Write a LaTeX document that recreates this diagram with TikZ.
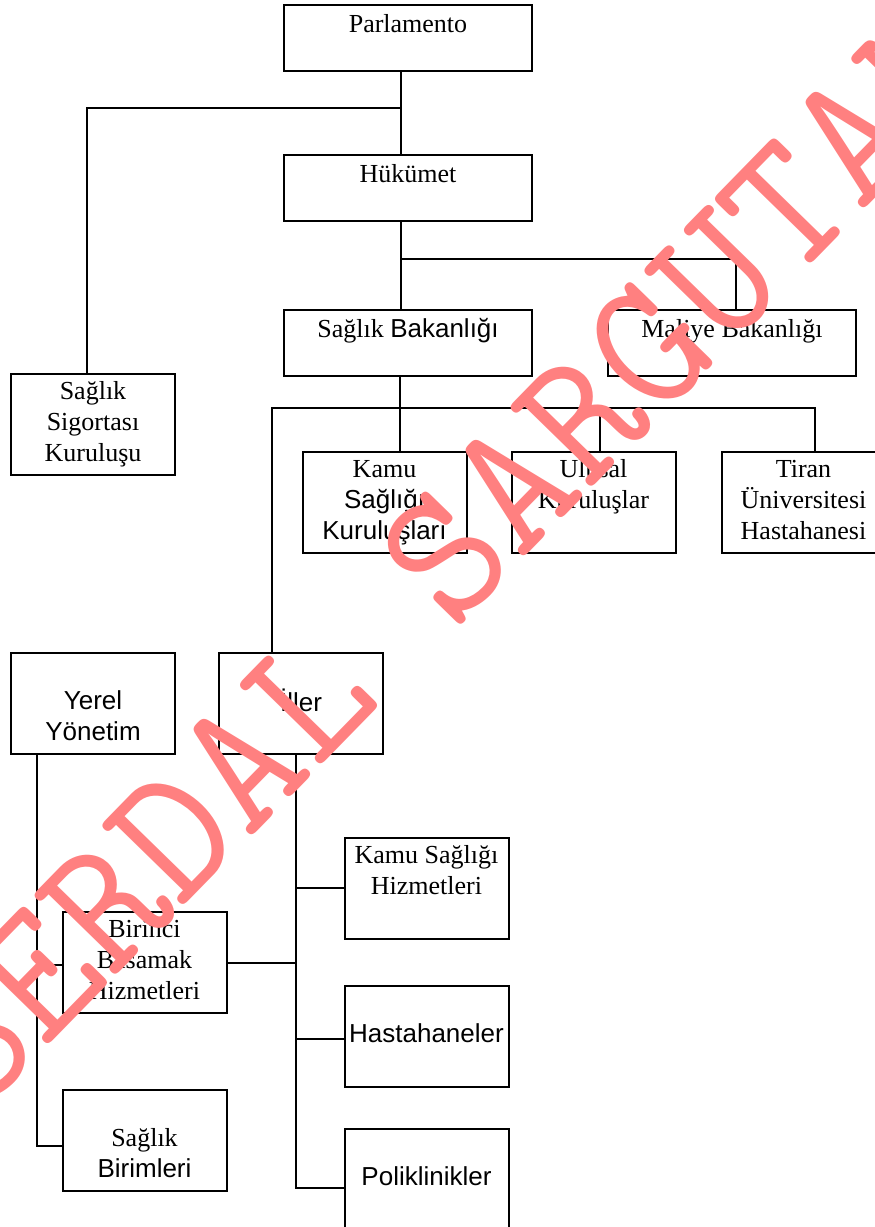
\documentclass[tikz,border=0pt]{standalone}
\usepackage{fontspec}
\setmainfont{Liberation Serif}
\setsansfont{Liberation Sans}
\usetikzlibrary{positioning,calc}
\definecolor{wmred}{RGB}{255,128,128}
\newcommand{\rows}[3]{\strut#1\\\strut#2\\\strut#3}

\begin{document}
\begin{tikzpicture}[x=0.5pt, y=-0.5pt, line width=1pt, font=\fontsize{13}{15.5}\selectfont,
    widebox/.style={draw, minimum width=124pt, inner sep=0pt, text height=13.5pt, text depth=19.5pt},
    unitbox/.style={draw, align=center, minimum width=82pt, minimum height=50.5pt, inner sep=0pt}]
    \useasboundingbox (0,0) rectangle (874,1227);
    % Ministries
    \node[widebox] (parl) at (408,38) {Parlamento};
    \node[widebox, below=41pt of parl] (huk) {Hükümet};
    \node[widebox, below=43.5pt of huk] (sb) {Sağlık {\sffamily Bakanlığı}};
    \node[widebox, right=37pt of sb] (mb) {Maliye Bakanlığı};
    \node[unitbox] (ssk) at (93,424.5) {\rows{Sağlık}{Sigortası}{Kuruluşu}};
    % Central units
    \node[unitbox] (kamu) at (384.5,502.5) {\rows{Kamu}{{\sffamily Sağlığı}}{{\sffamily Kuruluşları}}};
    \node[unitbox, right=21.5pt of kamu] (ulusal) {\rows{Ulusal}{Kuruluşlar}{}};
    \node[unitbox, right=22pt of ulusal] (tiran) {\rows{Tiran}{Üniversitesi}{Hastahanesi}};
    % Local level
    \node[unitbox] (yerel) at (93,703.5) {\rows{}{{\sffamily Yerel}}{{\sffamily Yönetim}}};
    \node[unitbox, right=21pt of yerel] (iller) {\rows{}{{\sffamily İller}}{}};
    \node[unitbox] (ksh) at (426.5,888) {\rows{Kamu Sağlığı}{Hizmetleri}{}};
    \node[unitbox, below=22.5pt of ksh] (hast) {\rows{}{{\sffamily Hastahaneler}}{}};
    \node[unitbox, below=20pt of hast] (poli) {\rows{}{{\sffamily Poliklinikler}}{}};
    \node[unitbox] (bbh) at (144.5,962.5) {\rows{Birinci}{Basamak}{Hizmetleri}};
    \node[unitbox, below=37.5pt of bbh] (sbir) {\rows{}{Sağlık}{{\sffamily Birimleri}}};
    % Lines
    \coordinate (j1) at (401,108);
    \coordinate (j2) at (401,259);
    \coordinate (j3) at (400,408);
    \draw ([xshift=-3.5pt]parl.south) -- ([xshift=-3.5pt]huk.north);
    \draw (j1) -| ([xshift=-3pt]ssk.north);
    \draw ([xshift=-3.5pt]huk.south) -- ([xshift=-3.5pt]sb.north);
    \draw (j2) -| ([xshift=2pt]mb.north);
    \draw ([xshift=-4pt]sb.south) -- (j3);
    \draw (j3) -- ([xshift=7.75pt]kamu.north);
    \draw (j3) -| ([xshift=3.25pt]ulusal.north);
    \draw (j3) -| ([xshift=5.5pt]tiran.north);
    \draw (j3) -| ([xshift=-14.75pt]iller.north);
    \coordinate (t) at ([xshift=-2.75pt]iller.south);
    \draw (t) |- ([yshift=-4.5pt]poli.west);
    \draw (ksh.west) -- (ksh.west -| t);
    \draw ([yshift=-1.5pt]hast.west) -- ([yshift=-1.5pt]hast.west -| t);
    \draw (bbh.east) -- (bbh.east -| t);
    \coordinate (y0) at ([xshift=-28pt]yerel.south);
    \draw (y0) |- ([yshift=-2.75pt]sbir.west);
    \draw ([yshift=-1.25pt]bbh.west) -- ([yshift=-1.25pt]bbh.west -| y0);
    % Watermark
    \node[text=wmred, rotate=45.7, font=\ttfamily\fontsize{94.5}{95}\selectfont] (wm) at (445,556) {SERDAL SARGUTAN};
\end{tikzpicture}
\end{document}
